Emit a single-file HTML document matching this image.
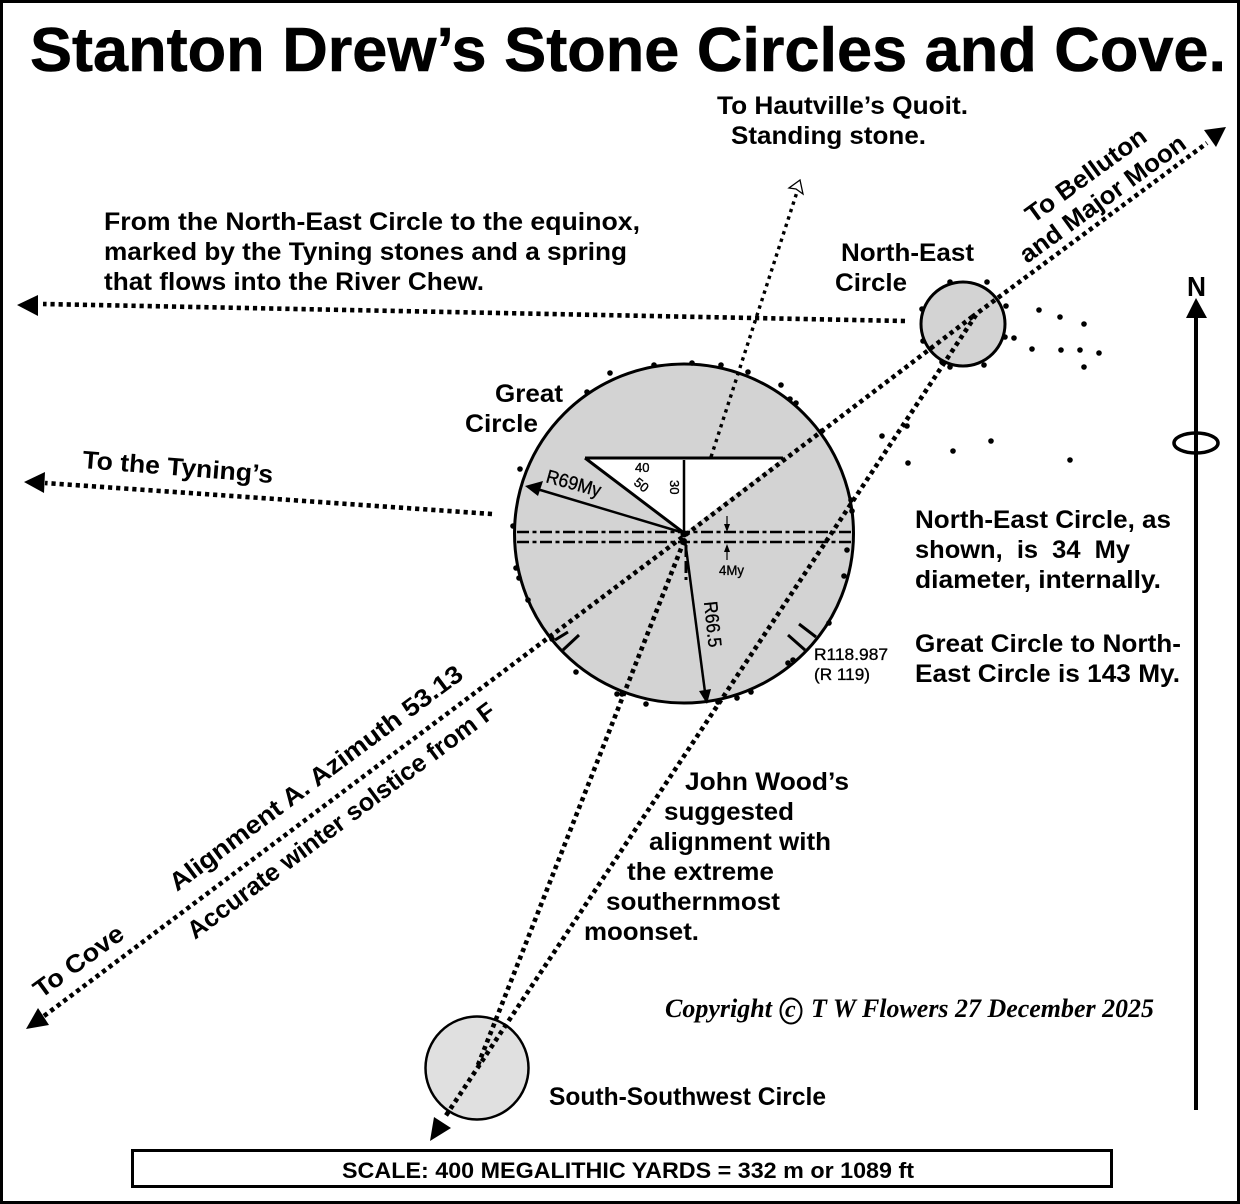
<!DOCTYPE html>
<html><head><meta charset="utf-8"><style>
html,body{margin:0;padding:0;background:#fff}
svg{display:block}
text{font-family:"Liberation Sans",sans-serif;font-weight:bold;fill:#000;font-size:25px}
.d{fill:none;stroke:#000;stroke-width:4.6;stroke-dasharray:4.2 3.9}
.l{fill:none;stroke:#000}
.m{font-weight:normal;stroke:#000;stroke-width:.35}
</style></head><body>
<svg width="1240" height="1204" viewBox="0 0 1240 1204" xmlns="http://www.w3.org/2000/svg">
<rect x="1.5" y="1.5" width="1237" height="1201" fill="#fff" stroke="#000" stroke-width="3"/>
<text x="30" y="71" style="font-size:62px;stroke:#000;stroke-width:.6" textLength="1196" lengthAdjust="spacingAndGlyphs">Stanton Drew’s Stone Circles and Cove.</text>

<!-- circles -->
<circle cx="684" cy="533.5" r="169.5" fill="#d3d3d3" stroke="#000" stroke-width="3"/>
<circle cx="963" cy="324" r="42" fill="#d3d3d3" stroke="#000" stroke-width="3"/>
<circle cx="477" cy="1068" r="51.5" fill="#e0e0e0" stroke="#000" stroke-width="2.5"/>

<!-- triangle -->
<polygon points="585,458 783,458 684,533" fill="#fff"/>
<path class="l" stroke-width="3" d="M585,458H783M585,458L684,533"/>
<path class="l" stroke-width="2.5" d="M684,460V533"/>

<!-- dash lines -->
<path class="l" stroke-width="2.5" stroke-dasharray="12 3.5 4 3.5" d="M517,532H851M517,542H853"/>
<path class="l" stroke-width="3" stroke-dasharray="12 4 12 4 4 4" d="M686,545V580"/>
<path class="l" stroke-width="3" d="M563,650L579,635M788,635L805,650M799,624L816,637M555,640L568,632"/>

<!-- radii -->
<path class="l" stroke-width="2.5" d="M684,533L537,489"/>
<polygon points="525,486 543,481 538,496" fill="#000"/>
<path class="l" stroke-width="2.5" d="M685,540L705,692"/>
<polygon points="707,704 699,691 711,689" fill="#000"/>
<circle cx="684" cy="534" r="3.5" fill="#000"/>
<circle cx="684" cy="541" r="3" fill="#000"/>

<!-- 4My ticks -->
<path class="l" stroke-width="1.2" d="M727,516V530M727,560V546"/>
<path d="M724,524L727,532L730,524ZM724,552L727,544L730,552Z" fill="#000"/>

<!-- dotted lines -->
<path class="d" d="M44,1016L684,536L972,317"/>
<path class="d" d="M972,317L1207,143"/>
<path class="d" d="M976,315L445,1117"/>
<path class="d" d="M684,541L478,1065"/>
<path class="d" style="stroke-width:3.4;stroke-dasharray:3.4 4.4" d="M711,457L797,192"/>
<path class="d" d="M905,321L43,304"/>
<path class="d" d="M492,514L45,483"/>

<!-- arrowheads -->
<polygon points="1226,127 1204,130 1216,147" fill="#000"/>
<polygon points="26,1029 38,1008 49,1025" fill="#000"/>
<polygon points="430,1141 434,1117 451,1128" fill="#000"/>
<polygon points="17,305 38,295 38,316" fill="#000"/>
<polygon points="24,482 45,472 44,493" fill="#000"/>
<polygon points="800,180 789,188 796,189 803,194" fill="#fff" stroke="#000" stroke-width="1.3"/>

<!-- stones -->
<g fill="#000">
<circle cx="610" cy="373" r="2.8"/><circle cx="654" cy="365" r="2.8"/><circle cx="692" cy="363" r="2.8"/><circle cx="721" cy="365" r="2.8"/><circle cx="748" cy="372" r="2.8"/><circle cx="781" cy="385" r="2.8"/><circle cx="790" cy="399" r="2.8"/><circle cx="796" cy="403" r="2.8"/><circle cx="822" cy="431" r="2.8"/><circle cx="851" cy="500" r="2.8"/><circle cx="852" cy="511" r="2.8"/><circle cx="847" cy="550" r="2.8"/><circle cx="844" cy="576" r="2.8"/><circle cx="829" cy="623" r="2.8"/><circle cx="793" cy="660" r="2.8"/><circle cx="788" cy="663" r="2.8"/><circle cx="751" cy="692" r="2.8"/><circle cx="737" cy="698" r="2.8"/><circle cx="718" cy="702" r="2.8"/><circle cx="646" cy="704" r="2.8"/><circle cx="622" cy="694" r="2.8"/><circle cx="617" cy="694" r="2.8"/><circle cx="576" cy="672" r="2.8"/><circle cx="552" cy="639" r="2.8"/><circle cx="528" cy="600" r="2.8"/><circle cx="519" cy="578" r="2.8"/><circle cx="516" cy="568" r="2.8"/><circle cx="513" cy="526" r="2.8"/><circle cx="520" cy="469" r="2.8"/><circle cx="587" cy="392" r="2.8"/>
<circle cx="950" cy="282" r="2.8"/><circle cx="987" cy="282" r="2.8"/><circle cx="922" cy="309" r="2.8"/><circle cx="923" cy="341" r="2.8"/><circle cx="1006" cy="306" r="2.8"/><circle cx="1005" cy="337" r="2.8"/><circle cx="1014" cy="338" r="2.8"/><circle cx="950" cy="367" r="2.8"/><circle cx="984" cy="365" r="2.8"/><circle cx="942" cy="362" r="2.8"/><circle cx="1039" cy="310" r="2.8"/><circle cx="1060" cy="317" r="2.8"/><circle cx="1084" cy="324" r="2.8"/><circle cx="1032" cy="349" r="2.8"/><circle cx="1061" cy="350" r="2.8"/><circle cx="1080" cy="350" r="2.8"/><circle cx="1099" cy="353" r="2.8"/><circle cx="1084" cy="367" r="2.8"/><circle cx="907" cy="426" r="2.8"/><circle cx="882" cy="436" r="2.8"/><circle cx="908" cy="463" r="2.8"/><circle cx="953" cy="451" r="2.8"/><circle cx="991" cy="441" r="2.8"/><circle cx="1070" cy="460" r="2.8"/>
</g>

<!-- north -->
<path class="l" stroke-width="4" d="M1196,316V1110"/>
<polygon points="1196,298 1186,318 1207,318" fill="#000"/>
<ellipse cx="1196" cy="443" rx="22" ry="10" fill="none" stroke="#000" stroke-width="3.5"/>
<text x="1187" y="296" style="font-size:28px" textLength="19" lengthAdjust="spacingAndGlyphs">N</text>

<!-- labels -->
<text x="717" y="114" textLength="251" lengthAdjust="spacingAndGlyphs">To Hautville’s Quoit.</text>
<text x="731" y="144" textLength="195" lengthAdjust="spacingAndGlyphs">Standing stone.</text>
<text x="104" y="230" textLength="536" lengthAdjust="spacingAndGlyphs">From the North-East Circle to the equinox,</text>
<text x="104" y="260" textLength="523" lengthAdjust="spacingAndGlyphs">marked by the Tyning stones and a spring</text>
<text x="104" y="290" textLength="380" lengthAdjust="spacingAndGlyphs">that flows into the River Chew.</text>
<text x="841" y="261" textLength="133" lengthAdjust="spacingAndGlyphs">North-East</text>
<text x="835" y="291" textLength="72" lengthAdjust="spacingAndGlyphs">Circle</text>
<text x="495" y="402" textLength="68" lengthAdjust="spacingAndGlyphs">Great</text>
<text x="465" y="432" textLength="73" lengthAdjust="spacingAndGlyphs">Circle</text>
<text x="915" y="528" textLength="256" lengthAdjust="spacingAndGlyphs">North-East Circle, as</text>
<text x="915" y="558" textLength="215" lengthAdjust="spacingAndGlyphs" xml:space="preserve">shown,  is  34  My</text>
<text x="915" y="588" textLength="246" lengthAdjust="spacingAndGlyphs">diameter, internally.</text>
<text x="915" y="652" textLength="266" lengthAdjust="spacingAndGlyphs">Great Circle to North-</text>
<text x="915" y="682" textLength="265" lengthAdjust="spacingAndGlyphs">East Circle is 143 My.</text>
<text class="m" x="814" y="660" style="font-size:17px" textLength="74" lengthAdjust="spacingAndGlyphs">R118.987</text>
<text class="m" x="814" y="680" style="font-size:17px" textLength="56" lengthAdjust="spacingAndGlyphs">(R 119)</text>
<text class="m" x="719" y="575" style="font-size:14px" textLength="25" lengthAdjust="spacingAndGlyphs">4My</text>
<text class="m" x="635" y="472" style="font-size:13px">40</text>
<text class="m" transform="translate(633,484) rotate(38)" style="font-size:13px">50</text>
<text class="m" transform="translate(670,480) rotate(90)" style="font-size:13px">30</text>
<text class="m" transform="translate(545,482) rotate(15.5)" style="font-size:19px" textLength="56" lengthAdjust="spacingAndGlyphs">R69My</text>
<text class="m" transform="translate(704,602) rotate(84)" style="font-size:19px" textLength="46" lengthAdjust="spacingAndGlyphs">R66.5</text>
<text transform="translate(82,468) rotate(4.5)" textLength="191" lengthAdjust="spacingAndGlyphs">To the Tyning’s</text>
<text transform="translate(1033,224) rotate(-36)" textLength="143" lengthAdjust="spacingAndGlyphs">To Belluton</text>
<text transform="translate(1027,264) rotate(-36)" textLength="199" lengthAdjust="spacingAndGlyphs">and Major Moon</text>
<text transform="translate(41,999) rotate(-36)" textLength="105" lengthAdjust="spacingAndGlyphs">To Cove</text>
<text transform="translate(177,892) rotate(-36.7)" textLength="359" lengthAdjust="spacingAndGlyphs">Alignment A. Azimuth 53.13</text>
<text transform="translate(195,940) rotate(-36.7)" textLength="377" lengthAdjust="spacingAndGlyphs">Accurate winter solstice from F</text>
<text x="685" y="790" textLength="164" lengthAdjust="spacingAndGlyphs">John Wood’s</text>
<text x="664" y="820" textLength="130" lengthAdjust="spacingAndGlyphs">suggested</text>
<text x="649" y="850" textLength="182" lengthAdjust="spacingAndGlyphs">alignment with</text>
<text x="627" y="880" textLength="147" lengthAdjust="spacingAndGlyphs">the extreme</text>
<text x="606" y="910" textLength="174" lengthAdjust="spacingAndGlyphs">southernmost</text>
<text x="584" y="940" textLength="115" lengthAdjust="spacingAndGlyphs">moonset.</text>
<g style="font-style:italic">
<text x="665" y="1017" style="font-family:'Liberation Serif',serif;font-style:italic;font-size:26px" textLength="107" lengthAdjust="spacingAndGlyphs">Copyright</text>
<ellipse cx="791" cy="1011" rx="10.5" ry="12.5" fill="none" stroke="#000" stroke-width="2"/>
<text x="785" y="1017" style="font-family:'Liberation Serif',serif;font-style:italic;font-size:24px">c</text>
<text x="811" y="1017" style="font-family:'Liberation Serif',serif;font-style:italic;font-size:26px" textLength="343" lengthAdjust="spacingAndGlyphs">T W Flowers 27 December 2025</text>
</g>
<text x="549" y="1105" textLength="277" lengthAdjust="spacingAndGlyphs">South-Southwest Circle</text>

<!-- scale -->
<rect x="132.5" y="1150.5" width="979" height="36" fill="#fff" stroke="#000" stroke-width="3"/>
<text x="342" y="1178" style="font-size:22px" textLength="572" lengthAdjust="spacingAndGlyphs">SCALE: 400 MEGALITHIC YARDS = 332 m or 1089 ft</text>
</svg>
</body></html>
